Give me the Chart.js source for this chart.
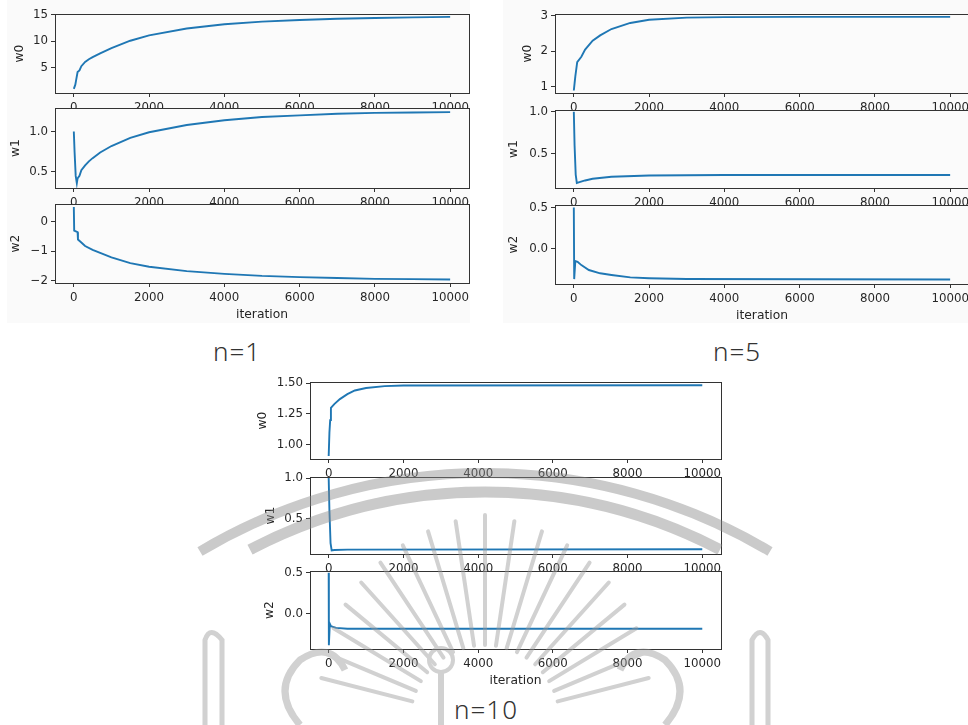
<!DOCTYPE html>
<html lang="en">
<head>
  <meta charset="UTF-8">
  <title>w0 w1 w2 vs iteration</title>
  <script src="https://cdn.jsdelivr.net/npm/chart.js"></script>
  <style>
    body { margin: 0; width: 968px; height: 725px; overflow: hidden; background: #fff; position: relative; }
    .panel { position: absolute; background: #fafafa; }
    .cap { position: absolute; font-family: "Noto Sans", sans-serif; font-weight: 300; font-size: 26px; letter-spacing: 1px; color: #333; transform: translate(-50%, -50%); white-space: nowrap; }
    canvas { position: absolute; }
    #mark { position: absolute; left: 0; top: 0; pointer-events: none; opacity: 0.45; }
  </style>
</head>
<body>
  <div class="panel" style="left:7px;top:0;width:463px;height:323px"></div>
  <div class="panel" style="left:503px;top:0;width:465px;height:323px"></div>
  <div class="cap" style="left:237px;top:351px">n=1</div>
  <div class="cap" style="left:737px;top:351px">n=5</div>
  <div class="cap" style="left:486px;top:709px">n=10</div>

  <script>
    const iterationTicks = [0, 2000, 4000, 6000, 8000, 10000];
    const iterationLabels = ['0', '2000', '4000', '6000', '8000', '10000'];

    // n=1
    const n1W0Iter = [0, 40, 60, 100, 150, 200, 300, 400, 500, 700, 1000, 1500, 2000, 3000, 4000, 5000, 6000, 7000, 8000, 9000, 9999];
    const n1W0 = [1.0, 1.8, 2.6, 4.2, 4.5, 5.3, 6.1, 6.6, 7.0, 7.7, 8.7, 10.1, 11.1, 12.4, 13.2, 13.7, 14.0, 14.25, 14.4, 14.5, 14.6];
    const n1W1Iter = [0, 20, 50, 80, 100, 150, 200, 300, 400, 500, 700, 1000, 1500, 2000, 3000, 4000, 5000, 6000, 7000, 8000, 9000, 9999];
    const n1W1 = [1.0, 0.75, 0.45, 0.36, 0.42, 0.45, 0.52, 0.58, 0.63, 0.67, 0.74, 0.82, 0.92, 0.99, 1.08, 1.14, 1.18, 1.20, 1.22, 1.23, 1.235, 1.24];
    const n1W2Iter = [0, 10, 100, 110, 200, 300, 500, 700, 1000, 1500, 2000, 3000, 4000, 5000, 6000, 7000, 8000, 9000, 9999];
    const n1W2 = [0.5, -0.3, -0.35, -0.6, -0.7, -0.82, -0.95, -1.05, -1.2, -1.4, -1.52, -1.67, -1.76, -1.83, -1.87, -1.9, -1.93, -1.94, -1.95];

    // n=5
    const n5W0Iter = [0, 20, 40, 90, 200, 300, 500, 700, 1000, 1500, 2000, 3000, 4000, 6000, 9999];
    const n5W0 = [0.9, 1.1, 1.3, 1.7, 1.85, 2.05, 2.3, 2.45, 2.63, 2.8, 2.89, 2.95, 2.965, 2.97, 2.97];
    const n5W1Iter = [0, 20, 50, 80, 150, 300, 500, 1000, 2000, 4000, 9999];
    const n5W1 = [1.0, 0.6, 0.25, 0.15, 0.16, 0.18, 0.2, 0.225, 0.24, 0.245, 0.245];
    const n5W2Iter = [0, 10, 40, 100, 200, 400, 700, 1000, 1500, 2000, 3000, 9999];
    const n5W2 = [0.5, -0.37, -0.15, -0.16, -0.2, -0.26, -0.3, -0.32, -0.35, -0.36, -0.37, -0.375];

    // n=10
    const n10W0Iter = [0, 20, 40, 60, 150, 300, 500, 700, 1000, 1500, 2000, 9999];
    const n10W0 = [0.91, 1.1, 1.2, 1.3, 1.33, 1.37, 1.41, 1.44, 1.46, 1.475, 1.48, 1.482];
    const n10W1Iter = [0, 20, 50, 80, 150, 500, 9999];
    const n10W1 = [1.0, 0.6, 0.2, 0.11, 0.115, 0.12, 0.125];
    const n10W2Iter = [0, 5, 30, 60, 200, 500, 9999];
    const n10W2 = [0.5, -0.38, -0.12, -0.15, -0.17, -0.18, -0.18];

    // y tick values / labels
    const n1W0Ticks = [5, 10, 15], n1W0Labels = ['5', '10', '15'];
    const n1W1Ticks = [0.5, 1.0], n1W1Labels = ['0.5', '1.0'];
    const n1W2Ticks = [-2, -1, 0], n1W2Labels = ['\u22122', '\u22121', '0'];
    const n5W0Ticks = [1, 2, 3], n5W0Labels = ['1', '2', '3'];
    const n5W1Ticks = [0.5, 1.0], n5W1Labels = ['0.5', '1.0'];
    const n5W2Ticks = [0.0, 0.5], n5W2Labels = ['0.0', '0.5'];
    const n10W0Ticks = [1.0, 1.25, 1.5], n10W0Labels = ['1.00', '1.25', '1.50'];
    const n10W1Ticks = [0.5, 1.0], n10W1Labels = ['0.5', '1.0'];
    const n10W2Ticks = [0.0, 0.5], n10W2Labels = ['0.0', '0.5'];

    const AXIS_W = 55;
    const frameColor = '#333';
    const textColor = '#262626';

    const framePlugin = {
      id: 'frame',
      beforeDraw(chart, args, opts) {
        const a = chart.chartArea, c = chart.ctx;
        c.save();
        c.fillStyle = opts.bg;
        c.fillRect(a.left, a.top, a.right - a.left, a.bottom - a.top);
        c.restore();
      },
      afterDraw(chart) {
        const a = chart.chartArea, c = chart.ctx;
        c.save();
        c.strokeStyle = frameColor;
        c.lineWidth = 1;
        c.strokeRect(Math.round(a.left) + 0.5, Math.round(a.top) + 0.5, Math.round(a.right - a.left), Math.round(a.bottom - a.top));
        c.restore();
      }
    };

    function makePlot(p) {
      const xh = p.bottomPlot ? 42 : 30;
      const cv = document.createElement('canvas');
      const w = (p.right - p.left) + AXIS_W + 25;
      const h = (p.bottom - p.top) + 10 + xh;
      cv.width = w; cv.height = h;
      cv.style.left = (p.left - AXIS_W) + 'px';
      cv.style.top = (p.top - 10) + 'px';
      document.body.appendChild(cv);

      new Chart(cv.getContext('2d'), {
        type: 'line',
        data: {
          datasets: [{
            label: p.name,
            data: p.iters.map((x, i) => ({ x: x, y: p.values[i] })),
            borderColor: '#1f77b4',
            borderWidth: 1.9,
            pointRadius: 0,
            tension: 0,
            fill: false
          }]
        },
        options: {
          responsive: false,
          animation: false,
          events: [],
          layout: { padding: { top: 10, right: 25, left: 0, bottom: 0 } },
          plugins: {
            legend: { display: false },
            tooltip: { enabled: false },
            frame: { bg: p.bg }
          },
          scales: {
            x: {
              type: 'linear',
              min: -500, max: 10500,
              afterBuildTicks: s => { s.ticks = iterationTicks.map(v => ({ value: v })); },
              afterFit: s => { s.height = xh; },
              grid: { display: true, drawOnChartArea: false, drawTicks: true, tickLength: 4, color: frameColor },
              border: { display: true, color: frameColor, width: 1 },
              ticks: {
                autoSkip: false, maxRotation: 0, padding: 4, color: textColor,
                font: { family: 'DejaVu Sans', size: 11.8 },
                callback: (v, i) => iterationLabels[i]
              },
              title: {
                display: !!p.bottomPlot, text: 'iteration', color: textColor,
                font: { family: 'DejaVu Sans', size: 12.3 },
                padding: { top: 0, bottom: 3 }
              }
            },
            y: {
              type: 'linear',
              min: p.ymin, max: p.ymax,
              afterBuildTicks: s => { s.ticks = p.yTicks.map(v => ({ value: v })); },
              afterFit: s => { s.width = AXIS_W; },
              grid: { display: true, drawOnChartArea: false, drawTicks: true, tickLength: 4, color: frameColor },
              border: { display: true, color: frameColor, width: 1 },
              ticks: {
                autoSkip: false, padding: 3, color: textColor,
                font: { family: 'DejaVu Sans', size: 11.8 },
                callback: (v, i) => p.yLabels[i]
              },
              title: {
                display: true, text: p.name, color: textColor,
                font: { family: 'DejaVu Sans', size: 12.3 },
                padding: { top: Math.max(0, AXIS_W - p.labelGap - 7.4), bottom: 0 }
              }
            }
          }
        },
        plugins: [framePlugin]
      });
    }

    const G1 = { left: 55, right: 469, bg: '#fbfbfb' };
    const G2 = { left: 555, right: 969, bg: '#fbfbfb' };
    const G3 = { left: 310, right: 721, bg: '#ffffff' };

    makePlot({ ...G1, top: 14, bottom: 93, name: 'w0', iters: n1W0Iter, values: n1W0, ymin: 0.23, ymax: 15.13, yTicks: n1W0Ticks, yLabels: n1W0Labels, labelGap: 35 });
    makePlot({ ...G1, top: 108, bottom: 188, name: 'w1', iters: n1W1Iter, values: n1W1, ymin: 0.30, ymax: 1.29, yTicks: n1W1Ticks, yLabels: n1W1Labels, labelGap: 39 });
    makePlot({ ...G1, top: 204, bottom: 283, name: 'w2', iters: n1W2Iter, values: n1W2, ymin: -2.07, ymax: 0.6, yTicks: n1W2Ticks, yLabels: n1W2Labels, labelGap: 39, bottomPlot: true });

    makePlot({ ...G2, top: 14, bottom: 93, name: 'w0', iters: n5W0Iter, values: n5W0, ymin: 0.83, ymax: 3.05, yTicks: n5W0Ticks, yLabels: n5W0Labels, labelGap: 27 });
    makePlot({ ...G2, top: 110, bottom: 188, name: 'w1', iters: n5W1Iter, values: n5W1, ymin: 0.09, ymax: 1.02, yTicks: n5W1Ticks, yLabels: n5W1Labels, labelGap: 41 });
    makePlot({ ...G2, top: 205, bottom: 284, name: 'w2', iters: n5W2Iter, values: n5W2, ymin: -0.43, ymax: 0.53, yTicks: n5W2Ticks, yLabels: n5W2Labels, labelGap: 41, bottomPlot: true });

    makePlot({ ...G3, top: 382, bottom: 459, name: 'w0', iters: n10W0Iter, values: n10W0, ymin: 0.885, ymax: 1.508, yTicks: n10W0Ticks, yLabels: n10W0Labels, labelGap: 47 });
    makePlot({ ...G3, top: 477, bottom: 554, name: 'w1', iters: n10W1Iter, values: n10W1, ymin: 0.066, ymax: 1.012, yTicks: n10W1Ticks, yLabels: n10W1Labels, labelGap: 39 });
    makePlot({ ...G3, top: 571, bottom: 649, name: 'w2', iters: n10W2Iter, values: n10W2, ymin: -0.427, ymax: 0.52, yTicks: n10W2Ticks, yLabels: n10W2Labels, labelGap: 40, bottomPlot: true });

    // faint background watermark (decoration only, not data)
    const svgNS = 'http://www.w3.org/2000/svg';
    const mark = document.createElementNS(svgNS, 'svg');
    mark.setAttribute('id', 'mark');
    mark.setAttribute('width', '968');
    mark.setAttribute('height', '725');
    function el(tag, attrs) {
      const e = document.createElementNS(svgNS, tag);
      for (const k in attrs) e.setAttribute(k, attrs[k]);
      mark.appendChild(e);
      return e;
    }
    function arc(cx, cy, r, x0, x1, sw) {
      const y0 = cy - Math.sqrt(r * r - (x0 - cx) ** 2);
      const y1 = cy - Math.sqrt(r * r - (x1 - cx) ** 2);
      el('path', { d: `M${x0},${y0} A${r},${r} 0 0 1 ${x1},${y1}`, fill: 'none', stroke: '#8a8a8a', 'stroke-width': sw });
    }
    arc(485, 1030, 557, 200, 770, 10);
    arc(485, 1000, 508, 250, 720, 11);
    const rc = { x: 485, y: 720 };
    for (let k = 0; k < 19; k++) {
      const ang = Math.PI * (1.08 + 0.84 * k / 18);
      const r0 = 75, r1 = 205 - Math.abs(k - 9) * 4;
      el('line', {
        x1: rc.x + r0 * Math.cos(ang), y1: rc.y + r0 * Math.sin(ang),
        x2: rc.x + r1 * Math.cos(ang), y2: rc.y + r1 * Math.sin(ang),
        stroke: '#9a9a9a', 'stroke-width': 4, 'stroke-linecap': 'round'
      });
    }
    el('circle', { cx: 441, cy: 660, r: 12, fill: 'none', stroke: '#9a9a9a', 'stroke-width': 4 });
    el('line', { x1: 441, y1: 672, x2: 441, y2: 725, stroke: '#9a9a9a', 'stroke-width': 6 });
    // side ornaments
    el('path', { d: 'M205,725 L205,640 Q210,625 222,640 L222,725', fill: 'none', stroke: '#9a9a9a', 'stroke-width': 5 });
    el('path', { d: 'M752,725 L752,640 Q760,625 768,640 L768,725', fill: 'none', stroke: '#9a9a9a', 'stroke-width': 5 });
    el('path', { d: 'M300,725 Q270,690 300,660 Q330,640 345,670', fill: 'none', stroke: '#9a9a9a', 'stroke-width': 7 });
    el('path', { d: 'M665,725 Q695,690 665,660 Q635,640 620,670', fill: 'none', stroke: '#9a9a9a', 'stroke-width': 7 });
    document.body.appendChild(mark);
  </script>
</body>
</html>
